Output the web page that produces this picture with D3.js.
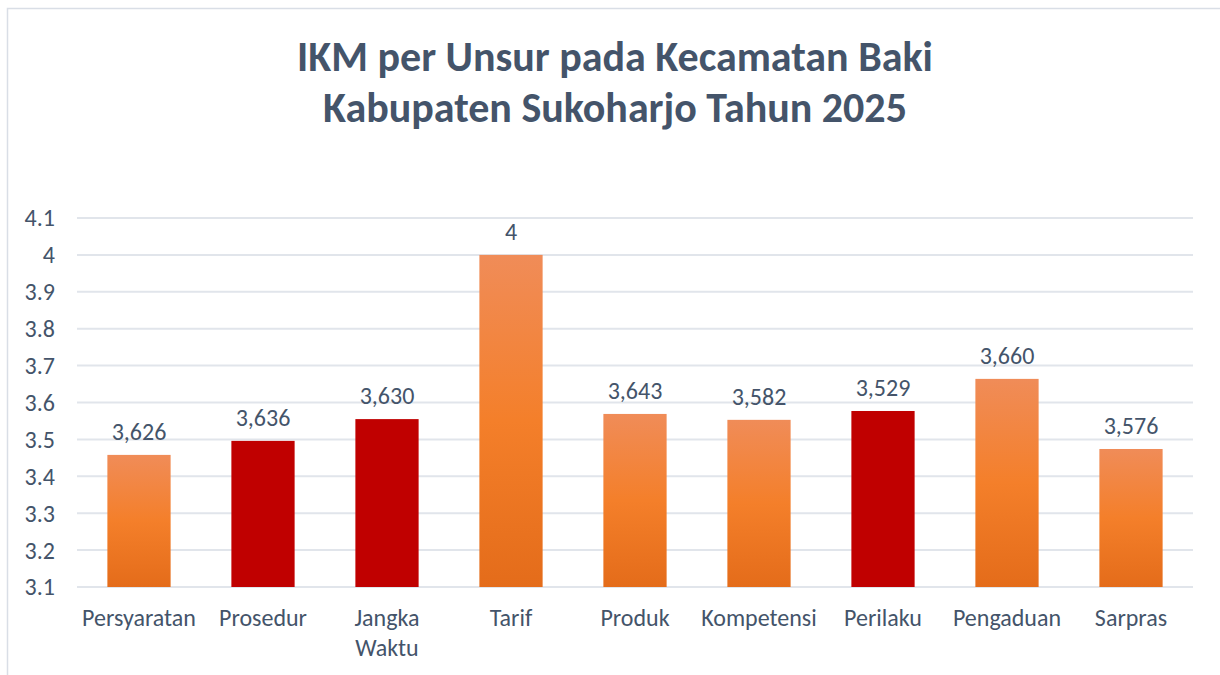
<!DOCTYPE html>
<html>
<head>
<meta charset="utf-8">
<script src="https://cdn.jsdelivr.net/npm/d3@7"></script>
<style>
  body { margin: 0; background: #fff; }
  text { font-family: Calibri, Carlito, Lato, sans-serif; fill: #44546A; }
</style>
</head>
<body>
<div id="chart"></div>
<script>
// data
const categories = ["Persyaratan", "Prosedur", "Jangka Waktu", "Tarif", "Produk", "Kompetensi", "Perilaku", "Pengaduan", "Sarpras"];
const barValues = [3.458, 3.496, 3.555, 4.0, 3.569, 3.553, 3.577, 3.664, 3.474];
const valueLabels = ["3,626", "3,636", "3,630", "4", "3,643", "3,582", "3,529", "3,660", "3,576"];
const highlighted = [false, true, true, false, false, false, true, false, false];
const yTicks = [3.1, 3.2, 3.3, 3.4, 3.5, 3.6, 3.7, 3.8, 3.9, 4, 4.1];
const titleLines = ["IKM per Unsur pada Kecamatan Baki", "Kabupaten Sukoharjo Tahun 2025"];

const width = 1220, height = 675;
const margin = { top: 218, right: 27, bottom: 88, left: 77 };

const svg = d3.select("#chart").append("svg")
    .attr("width", width)
    .attr("height", height);

// chart frame
svg.append("rect")
    .attr("x", 7.5).attr("y", 8.5)
    .attr("width", width + 20).attr("height", height + 20)
    .attr("fill", "none")
    .attr("stroke", "#D9DEE6")
    .attr("stroke-width", 1.5);

// gradient for orange bars
const grad = svg.append("defs").append("linearGradient")
    .attr("id", "orangeGrad")
    .attr("x1", 0).attr("y1", 0).attr("x2", 0).attr("y2", 1);
grad.append("stop").attr("offset", "0%").attr("stop-color", "#F08C58");
grad.append("stop").attr("offset", "50%").attr("stop-color", "#F47F2A");
grad.append("stop").attr("offset", "100%").attr("stop-color", "#E46C1A");

// title
svg.append("g").selectAll("text")
    .data(titleLines)
    .join("text")
    .attr("x", 615)
    .attr("y", (d, i) => 71 + i * 51)
    .attr("text-anchor", "middle")
    .attr("font-size", 42)
    .attr("font-weight", "bold")
    .text(d => d);

const x = d3.scaleBand()
    .domain(categories)
    .range([margin.left, width - margin.right])
    .paddingInner(0.49)
    .paddingOuter(0.245);

const y = d3.scaleLinear()
    .domain([3.1, 4.1])
    .range([height - margin.bottom, margin.top]);

// gridlines
svg.append("g").selectAll("line")
    .data(yTicks)
    .join("line")
    .attr("x1", margin.left)
    .attr("x2", width - margin.right)
    .attr("y1", d => y(d))
    .attr("y2", d => y(d))
    .attr("stroke", "#E1E5EB")
    .attr("stroke-width", 2);

// y axis labels
svg.append("g").selectAll("text")
    .data(yTicks)
    .join("text")
    .attr("x", 55)
    .attr("y", d => y(d))
    .attr("dy", "0.35em")
    .attr("text-anchor", "end")
    .attr("font-size", 24)
    .text(d => d3.format("~g")(d));

// bars
svg.append("g").selectAll("rect")
    .data(barValues)
    .join("rect")
    .attr("x", (d, i) => x(categories[i]))
    .attr("width", x.bandwidth())
    .attr("y", d => y(d))
    .attr("height", d => y(3.1) - y(d))
    .attr("fill", (d, i) => highlighted[i] ? "#C00000" : "url(#orangeGrad)");

// value labels
svg.append("g").selectAll("text")
    .data(barValues)
    .join("text")
    .attr("x", (d, i) => x(categories[i]) + x.bandwidth() / 2)
    .attr("y", d => y(d) - 15)
    .attr("text-anchor", "middle")
    .attr("font-size", 24)
    .text((d, i) => valueLabels[i]);

// category labels (Jangka Waktu wraps to two lines)
const cat = svg.append("g").selectAll("text")
    .data(categories)
    .join("text")
    .attr("x", d => x(d) + x.bandwidth() / 2)
    .attr("y", 626)
    .attr("text-anchor", "middle")
    .attr("font-size", 24);
cat.each(function(d) {
    const parts = d === "Jangka Waktu" ? d.split(" ") : [d];
    d3.select(this).selectAll("tspan")
        .data(parts)
        .join("tspan")
        .attr("x", x(d) + x.bandwidth() / 2)
        .attr("dy", (p, i) => i === 0 ? 0 : 30)
        .text(p => p);
});
</script>
</body>
</html>
